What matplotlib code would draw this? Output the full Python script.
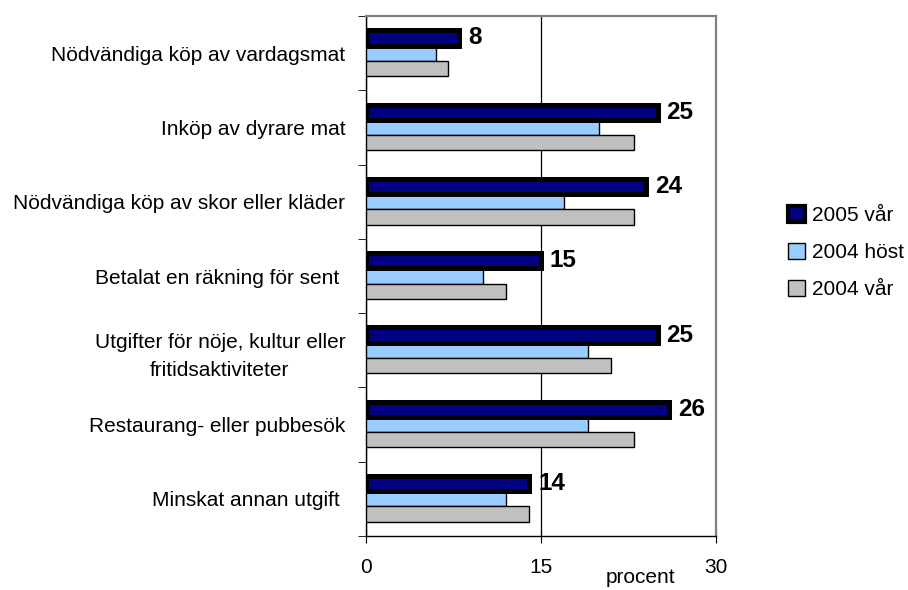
import numpy as np
import matplotlib
matplotlib.use('Agg')
import matplotlib.pyplot as plt
from matplotlib.patches import Patch

#===== data =====
categories = ['Nödvändiga köp av vardagsmat',
              'Inköp av dyrare mat',
              'Nödvändiga köp av skor eller kläder',
              'Betalat en räkning för sent ',
              'Utgifter för nöje, kultur eller\nfritidsaktiviteter',
              'Restaurang- eller pubbesök',
              'Minskat annan utgift ']
v2005_var = [8, 25, 24, 15, 25, 26, 14]
v2004_host = [6, 20, 17, 10, 19, 19, 12]
v2004_var = [7, 23, 23, 12, 21, 23, 14]
series_names = ['2005 vår', '2004 höst', '2004 vår']
xticks = [0, 15, 30]

plt.rcParams['font.family'] = ['Liberation Sans', 'DejaVu Sans']

fig = plt.figure(figsize=(9.08, 5.90), dpi=100)
ax = fig.add_axes([0.4031, 0.0915, 0.3855, 0.8814])

y = np.arange(len(categories))
h = 0.205

#thin bars first, thick bar on top
ax.barh(y, v2004_host, height=h, color='#99CCFF', edgecolor='black', linewidth=1.0, zorder=3)
ax.barh(y + h, v2004_var, height=h, color='#C0C0C0', edgecolor='black', linewidth=1.0, zorder=3)
ax.barh(y - h, v2005_var, height=h, color='#000080', edgecolor='black', linewidth=3.6, zorder=4)

#value labels on the 2005 bars
for yi, v in zip(y, v2005_var):
    ax.text(v + 0.75, yi - h, str(v), va='center', ha='left',
            fontsize=17.5, fontweight='bold', zorder=5)

ax.set_xlim(0, 30)
ax.set_ylim(len(categories) - 0.5, -0.5)
ax.set_xticks(xticks)
ax.set_xticklabels([str(t) for t in xticks], fontsize=15)
ax.tick_params(axis='x', direction='inout', length=10, pad=11)

#category labels centred in groups, ticks on the boundaries
ax.set_yticks(y)
ax.set_yticklabels(categories, fontsize=15, multialignment='center', linespacing=1.6)
ax.tick_params(axis='y', length=0, pad=15)
ax.set_yticks(np.arange(len(categories) + 1) - 0.5, minor=True)
ax.tick_params(axis='y', which='minor', length=6, direction='out')

ax.grid(axis='x', color='black', linewidth=0.9, zorder=0)
ax.set_axisbelow(True)
for s in ['top', 'right']:
    ax.spines[s].set_linewidth(1.6)
    ax.spines[s].set_color('#808080')
for s in ['left', 'bottom']:
    ax.spines[s].set_linewidth(1.0)
    ax.spines[s].set_color('black')

ax.set_xlabel('procent', fontsize=15)
ax.xaxis.set_label_coords(0.783, -0.062)

handles = [Patch(facecolor='#000080', edgecolor='black', linewidth=3),
           Patch(facecolor='#99CCFF', edgecolor='black', linewidth=1),
           Patch(facecolor='#C0C0C0', edgecolor='black', linewidth=1)]
fig.legend(handles, series_names, loc='center left', bbox_to_anchor=(0.859, 0.572),
           frameon=False, fontsize=15, handlelength=0.8, handleheight=0.8,
           handletextpad=0.35, labelspacing=0.86, borderaxespad=0)

plt.savefig('out.png', dpi=100)
